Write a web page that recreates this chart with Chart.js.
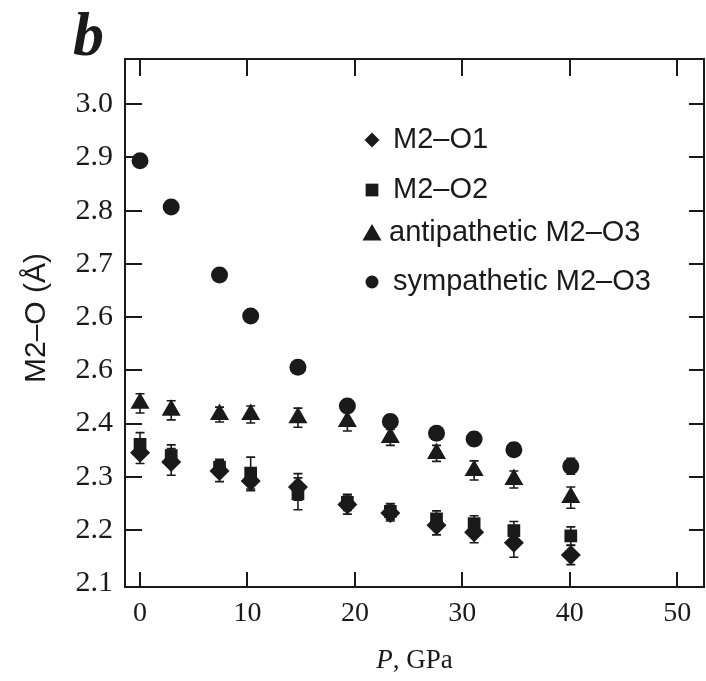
<!DOCTYPE html>
<html>
<head>
<meta charset="utf-8">
<script src="https://cdn.jsdelivr.net/npm/chart.js@4.4.1/dist/chart.umd.min.js"></script>
<style>
  html, body { margin: 0; padding: 0; background: #ffffff; }
  #wrap { width: 706px; height: 681px; }
</style>
</head>
<body>
<div id="wrap"><canvas id="c" width="706" height="681"></canvas></div>
<script>
// ---- data ----
const pressure = [0, 2.9, 7.4, 10.3, 14.7, 19.3, 23.3, 27.6, 31.1, 34.8, 40.1];

const m2o1     = [2.345, 2.328, 2.311, 2.292, 2.281, 2.248, 2.232, 2.209, 2.196, 2.176, 2.153];
const m2o1Err  = [0.020, 0.025, 0.020, 0.018, 0.025, 0.018, 0.015, 0.018, 0.020, 0.027, 0.018];

const m2o2     = [2.361, 2.340, 2.318, 2.307, 2.268, 2.252, 2.235, 2.221, 2.212, 2.199, 2.189];
const m2o2Err  = [0.022, 0.020, 0.015, 0.030, 0.030, 0.015, 0.015, 0.015, 0.015, 0.017, 0.017];

const antiO3    = [2.438, 2.425, 2.417, 2.417, 2.411, 2.404, 2.374, 2.344, 2.312, 2.295, 2.261];
const antiO3Err = [0.018, 0.018, 0.014, 0.016, 0.018, 0.018, 0.015, 0.015, 0.018, 0.016, 0.020];

const sympO3    = [2.894, 2.807, 2.679, 2.602, 2.506, 2.433, 2.404, 2.382, 2.371, 2.351, 2.320];
const sympO3Err = [0.008, 0.008, 0.008, 0.008, 0.008, 0.012, 0.012, 0.012, 0.012, 0.012, 0.015];

const seriesNames = ['M2\u2013O1', 'M2\u2013O2', 'antipathetic M2\u2013O3', 'sympathetic M2\u2013O3'];

const xTickValues = [0, 10, 20, 30, 40, 50];
const xTickLabels = ['0', '10', '20', '30', '40', '50'];
const yTickValues = [2.1, 2.2, 2.3, 2.4, 2.5, 2.6, 2.7, 2.8, 2.9, 3.0];
const yTickLabels = ['2.1', '2.2', '2.3', '2.4', '2.6', '2.6', '2.7', '2.8', '2.9', '3.0'];

const panelLetter = 'b';
const yTitle = 'M2\u2013O (\u00C5)';
const xTitleItalic = 'P';
const xTitleRest = ', GPa';

// ---- styles ----
const INK = '#1a1a1a';
const SERIF = '"Liberation Serif", "Times New Roman", serif';
const SANS = '"Liberation Sans", Arial, sans-serif';

const styles = [
  { pointStyle: 'rectRot',  radius: 10,  legendRadius: 7.5 },
  { pointStyle: 'rect',     radius: 9,   legendRadius: 9 },
  { pointStyle: 'triangle', radius: 11,  legendRadius: 11 },
  { pointStyle: 'circle',   radius: 8.5, legendRadius: 6.5 }
];

const values = [m2o1, m2o2, antiO3, sympO3];
const errors = [m2o1Err, m2o2Err, antiO3Err, sympO3Err];

const datasets = values.map((arr, i) => ({
  label: seriesNames[i],
  data: arr.map((v, j) => ({ x: pressure[j], y: v })),
  pointStyle: styles[i].pointStyle,
  pointRadius: styles[i].radius,
  pointHoverRadius: styles[i].radius,
  backgroundColor: INK,
  borderColor: INK,
  borderWidth: 0,
  showLine: false,
  errors: errors[i]
}));

function drawMarker(ctx, style, x, y, r) {
  ctx.beginPath();
  if (style === 'circle') {
    ctx.arc(x, y, r, 0, Math.PI * 2);
  } else if (style === 'rect') {
    const s = Math.SQRT1_2 * r;
    ctx.rect(x - s, y - s, 2 * s, 2 * s);
  } else if (style === 'rectRot') {
    ctx.moveTo(x - r, y); ctx.lineTo(x, y - r); ctx.lineTo(x + r, y); ctx.lineTo(x, y + r); ctx.closePath();
  } else if (style === 'triangle') {
    const a = -Math.PI / 2;
    for (let k = 0; k < 3; k++) {
      const ang = a + k * 2 * Math.PI / 3;
      const px = x + Math.cos(ang) * r, py = y + Math.sin(ang) * r;
      if (k === 0) ctx.moveTo(px, py); else ctx.lineTo(px, py);
    }
    ctx.closePath();
  }
  ctx.fill();
}

const decorPlugin = {
  id: 'decor',
  beforeDatasetsDraw(chart) {
    const ctx = chart.ctx;
    const xs = chart.scales.x, ys = chart.scales.y;
    ctx.save();
    ctx.strokeStyle = INK;
    ctx.lineWidth = 1.6;
    chart.data.datasets.forEach(ds => {
      ds.data.forEach((p, j) => {
        const e = ds.errors[j];
        const px = xs.getPixelForValue(p.x);
        const pt = ys.getPixelForValue(p.y + e);
        const pb = ys.getPixelForValue(p.y - e);
        ctx.beginPath();
        ctx.moveTo(px, pt); ctx.lineTo(px, pb);
        ctx.moveTo(px - 4.5, pt); ctx.lineTo(px + 4.5, pt);
        ctx.moveTo(px - 4.5, pb); ctx.lineTo(px + 4.5, pb);
        ctx.stroke();
      });
    });
    ctx.restore();
  },
  afterDraw(chart) {
    const ctx = chart.ctx;
    const a = chart.chartArea;
    const xs = chart.scales.x, ys = chart.scales.y;
    ctx.save();
    // frame
    ctx.strokeStyle = INK;
    ctx.lineWidth = 2;
    ctx.strokeRect(a.left, a.top, a.right - a.left, a.bottom - a.top);
    // inward ticks
    ctx.lineWidth = 2;
    ctx.beginPath();
    xTickValues.forEach(v => {
      const px = Math.round(xs.getPixelForValue(v));
      ctx.moveTo(px, a.bottom); ctx.lineTo(px, a.bottom - 15);
      ctx.moveTo(px, a.top); ctx.lineTo(px, a.top + 17);
    });
    yTickValues.forEach(v => {
      if (v < 2.15) return;
      const py = Math.round(ys.getPixelForValue(v));
      ctx.moveTo(a.left, py); ctx.lineTo(a.left + 17, py);
      ctx.moveTo(a.right, py); ctx.lineTo(a.right - 15, py);
    });
    ctx.stroke();

    // legend
    const legendRows = [140, 190, 233, 282];
    ctx.fillStyle = INK;
    ctx.font = '29px ' + SANS;
    ctx.textBaseline = 'middle';
    ctx.textAlign = 'left';
    seriesNames.forEach((name, i) => {
      const yy = legendRows[i];
      drawMarker(ctx, styles[i].pointStyle, 372, yy + (i === 2 ? 2 : 0), styles[i].legendRadius);
      ctx.fillText(name, i === 2 ? 389 : 393, yy);
    });

    // panel letter
    ctx.font = 'italic bold 62px ' + SERIF;
    ctx.textBaseline = 'alphabetic';
    ctx.fillText(panelLetter, 73, 55);

    // y title
    ctx.save();
    ctx.translate(45, (a.top + a.bottom) / 2 - 5);
    ctx.rotate(-Math.PI / 2);
    ctx.font = '30px ' + SANS;
    ctx.textAlign = 'center';
    ctx.textBaseline = 'alphabetic';
    ctx.fillText(yTitle, 0, 0);
    ctx.restore();

    // x title
    ctx.font = 'italic 27px ' + SERIF;
    const w1 = ctx.measureText(xTitleItalic).width;
    ctx.font = '27px ' + SERIF;
    const w2 = ctx.measureText(xTitleRest).width;
    const cx = (a.left + a.right) / 2;
    let sx = cx - (w1 + w2) / 2;
    ctx.textAlign = 'left';
    ctx.font = 'italic 27px ' + SERIF;
    ctx.fillText(xTitleItalic, sx, 668);
    ctx.font = '27px ' + SERIF;
    ctx.fillText(xTitleRest, sx + w1, 668);
    ctx.restore();
  }
};

new Chart(document.getElementById('c'), {
  type: 'scatter',
  data: { datasets },
  options: {
    responsive: false,
    animation: false,
    devicePixelRatio: 1,
    layout: { autoPadding: false, padding: { top: 59, right: 2, left: 0, bottom: 0 } },
    plugins: { legend: { display: false }, tooltip: { enabled: false } },
    scales: {
      x: {
        type: 'linear',
        min: -1.4,
        max: 52.5,
        grid: { display: false, drawTicks: false },
        border: { display: false },
        afterBuildTicks: s => { s.ticks = xTickValues.map(v => ({ value: v })); },
        afterFit: s => { s.height = 94; s.paddingLeft = 0; s.paddingRight = 0; },
        ticks: {
          padding: 10,
          color: INK,
          font: { family: SERIF, size: 28 },
          callback: (v, i) => xTickLabels[i]
        }
      },
      y: {
        type: 'linear',
        min: 2.093,
        max: 3.085,
        grid: { display: false, drawTicks: false },
        border: { display: false },
        afterBuildTicks: s => { s.ticks = yTickValues.map(v => ({ value: v })); },
        afterFit: s => { s.width = 125; s.paddingTop = 0; s.paddingBottom = 0; },
        ticks: {
          padding: 12,
          color: INK,
          font: { family: SERIF, size: 30 },
          callback: (v, i) => yTickLabels[i]
        }
      }
    }
  },
  plugins: [decorPlugin]
});
</script>
</body>
</html>
